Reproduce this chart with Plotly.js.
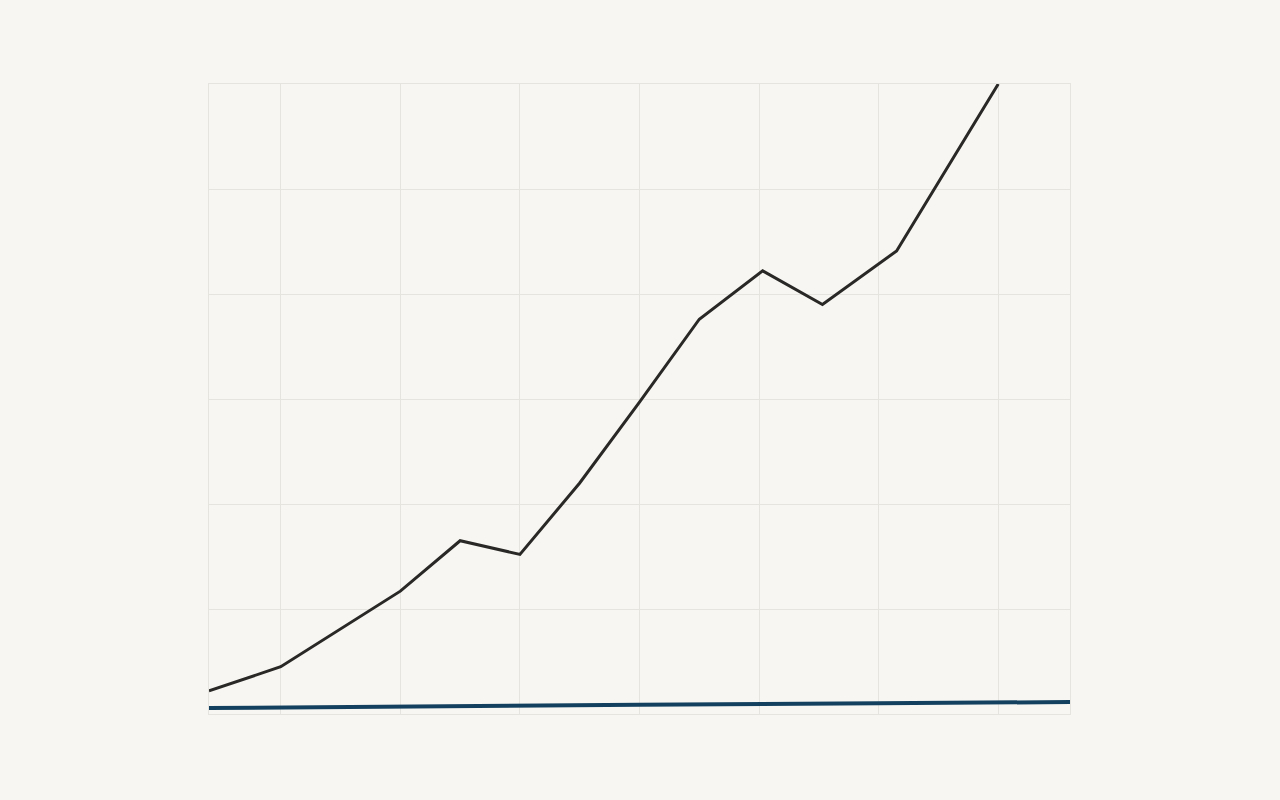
<!DOCTYPE html>
<html>
<head>
<meta charset="utf-8">
<script src="https://cdn.plot.ly/plotly-3.0.1.min.js"></script>
<style>
  html, body { margin: 0; padding: 0; background: #f7f6f2; }
  #chart { width: 1280px; height: 800px; }
</style>
</head>
<body>
<div id="chart"></div>
<script>
// main series (black)
const mainYears = [2009.4, 2010, 2011, 2011.5, 2012, 2012.5, 2013, 2013.5, 2014.03, 2014.53, 2015.15, 2016];
const mainValues = [11, 22.5, 58.5, 82.5, 76, 110, 148.5, 188, 211, 195, 220.5, 300];

// baseline series (blue)
const baseYears = [2009.4, 2011, 2013, 2015, 2016.6];
const baseValues = [2.8, 3.6, 4.4, 5.1, 5.7];

const gridYears = [2010, 2011, 2012, 2013, 2014, 2015, 2016];

const traces = [
  {
    x: baseYears,
    y: baseValues,
    mode: 'lines',
    type: 'scatter',
    line: { color: '#13405f', width: 4 },
    hoverinfo: 'x+y'
  },
  {
    x: mainYears,
    y: mainValues,
    mode: 'lines',
    type: 'scatter',
    line: { color: '#2a2826', width: 3 },
    hoverinfo: 'x+y'
  }
];

const layout = {
  width: 1280,
  height: 800,
  margin: { l: 209, r: 210, t: 84, b: 86, pad: 0 },
  showlegend: false,
  paper_bgcolor: '#f7f6f2',
  plot_bgcolor: '#f7f6f2',
  xaxis: {
    range: [2009.4, 2016.6],
    tickvals: gridYears,
    showticklabels: false,
    showgrid: true,
    gridcolor: '#e6e4df',
    gridwidth: 1,
    zeroline: false,
    showline: true,
    mirror: true,
    linecolor: '#e6e4df',
    linewidth: 1
  },
  yaxis: {
    range: [0, 300],
    dtick: 50,
    showticklabels: false,
    showgrid: true,
    gridcolor: '#e6e4df',
    gridwidth: 1,
    zeroline: false,
    showline: true,
    mirror: true,
    linecolor: '#e6e4df',
    linewidth: 1
  }
};

Plotly.newPlot('chart', traces, layout, { staticPlot: true });
</script>
</body>
</html>
